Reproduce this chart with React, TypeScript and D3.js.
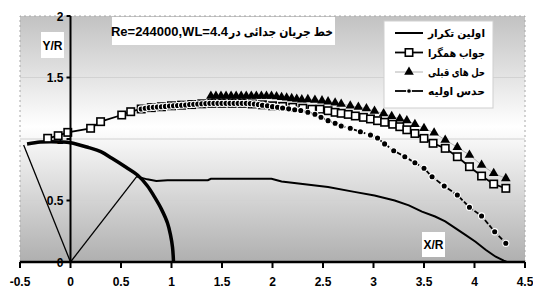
import React from "react";
import * as d3 from "d3";

const xTicks = [-0.5, 0, 0.5, 1, 1.5, 2, 2.5, 3, 3.5, 4, 4.5];
const yTicks = [0, 0.5, 1, 1.5, 2];
const gridValues = [0.5, 1, 1.5];

const seriesNames = ["اولین تکرار", "جواب همگرا", "حل های قبلی", "حدس اولیه"];
const titleLatin = "Re=244000,WL=4.4";
const titleFarsi = "خط جریان جدائی در";

// body surface (thick arc)
const bodyX = [-0.43, -0.3, -0.2, -0.1, 0, 0.18, 0.3, 0.41, 0.55, 0.663, 0.76, 0.83, 0.9, 0.961, 0.99, 1.01, 1.02];
const bodyY = [0.96, 0.975, 0.978, 0.976, 0.97, 0.93, 0.897, 0.843, 0.77, 0.707, 0.62, 0.531, 0.43, 0.315, 0.22, 0.12, 0.0];

// radial lines from origin
const rayEndX = [-0.464, 0.663];
const rayEndY = [0.951, 0.702];

// اولین تکرار
const firstX = [0.66, 0.76, 0.85, 0.96, 1.36, 1.39, 1.99, 2.09, 2.55, 2.81, 3.01, 3.21, 3.35, 3.48, 3.61, 3.71, 3.81, 3.91, 4.01, 4.11, 4.21, 4.29, 4.32];
const firstY = [0.694, 0.672, 0.659, 0.664, 0.665, 0.677, 0.677, 0.655, 0.61, 0.57, 0.54, 0.5, 0.46, 0.41, 0.37, 0.33, 0.275, 0.22, 0.165, 0.1, 0.043, 0.011, 0.0];

// جواب همگرا
const convX = [-0.226, -0.122, -0.027, 0.199, 0.298, 0.507, 0.596, 0.7, 0.8, 0.9, 1.0, 1.1, 1.2, 1.3, 1.4, 1.5, 1.6, 1.7, 1.8, 1.9, 2.0, 2.1, 2.2, 2.3, 2.39, 2.47, 2.55, 2.62, 2.68, 2.75, 2.82, 2.9, 2.97, 3.04, 3.11, 3.19, 3.26, 3.33, 3.41, 3.5, 3.59, 3.71, 3.83, 3.95, 4.07, 4.19, 4.31];
const convY = [1.006, 1.027, 1.054, 1.087, 1.141, 1.195, 1.222, 1.244, 1.255, 1.262, 1.27, 1.275, 1.28, 1.286, 1.29, 1.29, 1.29, 1.29, 1.285, 1.278, 1.27, 1.265, 1.258, 1.25, 1.242, 1.242, 1.23, 1.217, 1.209, 1.2, 1.187, 1.176, 1.163, 1.149, 1.136, 1.12, 1.1, 1.075, 1.045, 1.005, 0.965, 0.924, 0.856, 0.775, 0.699, 0.634, 0.599];

// حل های قبلی
const prevX = [1.39, 1.44, 1.49, 1.54, 1.59, 1.64, 1.69, 1.74, 1.79, 1.84, 1.89, 1.94, 1.99, 2.04, 2.09, 2.14, 2.19, 2.24, 2.29, 2.35, 2.42, 2.49, 2.55, 2.62, 2.68, 2.77, 2.85, 2.93, 3.01, 3.1, 3.18, 3.26, 3.33, 3.41, 3.5, 3.6, 3.71, 3.83, 3.95, 4.07, 4.19, 4.31];
const prevY = [1.35, 1.35, 1.35, 1.35, 1.35, 1.35, 1.35, 1.35, 1.35, 1.35, 1.35, 1.35, 1.35, 1.345, 1.34, 1.335, 1.33, 1.325, 1.32, 1.322, 1.317, 1.312, 1.304, 1.295, 1.285, 1.27, 1.26, 1.248, 1.228, 1.207, 1.185, 1.165, 1.15, 1.12, 1.087, 1.051, 0.992, 0.933, 0.87, 0.789, 0.721, 0.68];

// حدس اولیه
const guessX = [0.7, 0.74, 0.78, 0.82, 0.86, 0.9, 0.94, 0.98, 1.02, 1.06, 1.1, 1.14, 1.18, 1.22, 1.26, 1.3, 1.34, 1.38, 1.42, 1.46, 1.5, 1.54, 1.58, 1.62, 1.66, 1.7, 1.74, 1.78, 1.82, 1.86, 1.9, 1.95, 2.0, 2.05, 2.1, 2.16, 2.22, 2.28, 2.35, 2.42, 2.48, 2.55, 2.62, 2.68, 2.77, 2.87, 2.97, 3.04, 3.11, 3.2, 3.31, 3.41, 3.5, 3.58, 3.7, 3.83, 3.95, 4.07, 4.2, 4.31];
const guessY = [1.244, 1.25, 1.255, 1.258, 1.26, 1.262, 1.265, 1.268, 1.27, 1.272, 1.275, 1.277, 1.28, 1.282, 1.284, 1.286, 1.288, 1.29, 1.29, 1.29, 1.29, 1.29, 1.29, 1.29, 1.29, 1.29, 1.29, 1.288, 1.285, 1.28, 1.275, 1.27, 1.263, 1.258, 1.252, 1.245, 1.238, 1.232, 1.217, 1.201, 1.177, 1.149, 1.128, 1.106, 1.087, 1.059, 1.033, 1.008, 0.96, 0.905, 0.856, 0.807, 0.762, 0.693, 0.618, 0.545, 0.445, 0.374, 0.246, 0.152];

const W = 533;
const H = 289;
const FONT = "'Liberation Sans', Arial, 'DejaVu Sans', sans-serif";

const zip = (xs: number[], ys: number[]) => xs.map((v, i) => [v, ys[i]] as [number, number]);

const App = () => {
  const x = d3.scaleLinear().domain([-0.5, 4.5]).range([20, 525]);
  const y = d3.scaleLinear().domain([0, 2]).range([262, 16]);
  const [left, right] = x.range();
  const [bottom, top] = y.range();

  const line = d3.line<[number, number]>().x(d => x(d[0])).y(d => y(d[1]));
  const smooth = d3.line<[number, number]>().x(d => x(d[0])).y(d => y(d[1])).curve(d3.curveCatmullRom);

  const tri = d3.symbol(d3.symbolTriangle, 40)()!;
  const sq = 7.4;

  const body = zip(bodyX, bodyY);
  const first = zip(firstX, firstY);
  const conv = zip(convX, convY);
  const prev = zip(prevX, prevY);
  const guess = zip(guessX, guessY);

  const legendY = [33, 52.5, 72, 91];
  const lx0 = 395, lx1 = 423, lmid = 409;

  return (
    <svg width={W} height={H} style={{ position: "absolute", left: 0, top: 0 }} fontFamily={FONT}>
      <defs>
        <linearGradient id="bg" x1="0" y1="0" x2="0" y2="1">
          <stop offset="0" stopColor="#c2c2c2" />
          <stop offset="0.45" stopColor="#ffffff" />
          <stop offset="1" stopColor="#afafaf" />
        </linearGradient>
      </defs>
      <rect x={left} y={top} width={right - left} height={bottom - top} fill="url(#bg)" />
      {gridValues.map(v => (
        <line key={v} x1={left} x2={right} y1={y(v)} y2={y(v)} stroke="#d2d2d2" strokeWidth={1} />
      ))}
      <path d={`M${left},${bottom} V${top} H${right} V${bottom}`} fill="none" stroke="#a8a8a8" strokeDasharray="2,3" />

      {/* y tick labels sit inside plot area */}
      {yTicks.map(v => (
        <g key={v}>
          <line x1={x(0) - 4} x2={x(0)} y1={y(v)} y2={y(v)} stroke="black" strokeWidth={2} />
          <text x={x(0) - 7} y={y(v) + 4.5} textAnchor="end" fontSize={12} fontWeight="bold">{v}</text>
        </g>
      ))}

      {/* title box */}
      <rect x={112} y={17} width={223} height={28} fill="white" />
      <text x={228} y={36} textAnchor="end" fontSize={13} fontWeight="bold">{titleLatin}</text>
      <text x={229} y={36} textAnchor="start" fontSize={12} fontWeight="bold" textLength={104} lengthAdjust="spacingAndGlyphs">{titleFarsi}</text>

      {/* axis captions */}
      <rect x={41} y={32} width={23} height={26} fill="white" />
      <text x={52.5} y={50} textAnchor="middle" fontSize={12} fontWeight="bold">Y/R</text>
      <rect x={422} y={232} width={23} height={25} fill="white" />
      <text x={433.5} y={249} textAnchor="middle" fontSize={12} fontWeight="bold">X/R</text>

      {/* body and rays */}
      {rayEndX.map((v, i) => (
        <path key={i} d={line([[0, 0], [v, rayEndY[i]]])!} stroke="black" strokeWidth={1.3} fill="none" />
      ))}
      <path d={smooth(body)!} fill="none" stroke="black" strokeWidth={3.5} />

      {/* اولین تکرار */}
      <path d={line(first)!} fill="none" stroke="black" strokeWidth={2} />

      {/* جواب همگرا */}
      <path d={line(conv)!} fill="none" stroke="black" strokeWidth={1.8} />
      {conv.map((d, i) => (
        <rect key={i} x={x(d[0]) - sq / 2} y={y(d[1]) - sq / 2} width={sq} height={sq} fill="white" stroke="black" strokeWidth={1.6} />
      ))}

      {/* حل های قبلی */}
      <path d={line(prev)!} fill="none" stroke="#a0a0a0" strokeWidth={0.8} />
      {prev.map((d, i) => (
        <path key={i} d={tri} transform={`translate(${x(d[0])},${y(d[1])})`} fill="black" />
      ))}

      {/* حدس اولیه */}
      <path d={line(guess)!} fill="none" stroke="black" strokeWidth={1.8} strokeDasharray="5,2" />
      {guess.map((d, i) => (
        <circle key={i} cx={x(d[0])} cy={y(d[1])} r={3.1} fill="black" stroke="white" strokeWidth={1.1} />
      ))}

      {/* axes */}
      <line x1={x(0)} x2={x(0)} y1={bottom} y2={top} stroke="black" strokeWidth={2} />
      <line x1={left} x2={right} y1={bottom} y2={bottom} stroke="black" strokeWidth={2.5} />
      {xTicks.map(v => (
        <g key={v}>
          <line x1={x(v)} x2={x(v)} y1={bottom} y2={bottom + 6} stroke="black" strokeWidth={2} />
          <text x={x(v)} y={286} textAnchor="middle" fontSize={12} fontWeight="bold">{v}</text>
        </g>
      ))}

      {/* legend */}
      <rect x={384} y={21} width={109} height={87} fill="white" stroke="#cfcfcf" />
      {seriesNames.map((name, i) => (
        <text key={name} x={485} y={legendY[i] + 4} textAnchor="end" fontSize={11} fontWeight="bold" textLength={57} lengthAdjust="spacingAndGlyphs">{name}</text>
      ))}
      <line x1={lx0} x2={lx1} y1={legendY[0]} y2={legendY[0]} stroke="black" strokeWidth={2} />
      <line x1={lx0} x2={lx1} y1={legendY[1]} y2={legendY[1]} stroke="black" strokeWidth={1.8} />
      <rect x={lmid - sq / 2} y={legendY[1] - sq / 2} width={sq} height={sq} fill="white" stroke="black" strokeWidth={1.6} />
      <line x1={lx0} x2={lx1} y1={legendY[2]} y2={legendY[2]} stroke="#a0a0a0" strokeWidth={0.8} />
      <path d={tri} transform={`translate(${lmid},${legendY[2]})`} fill="black" />
      <line x1={lx0} x2={lx1} y1={legendY[3]} y2={legendY[3]} stroke="black" strokeWidth={1.8} />
      <circle cx={lmid} cy={legendY[3]} r={2.4} fill="black" stroke="white" strokeWidth={1.1} />
    </svg>
  );
};

export default App;
